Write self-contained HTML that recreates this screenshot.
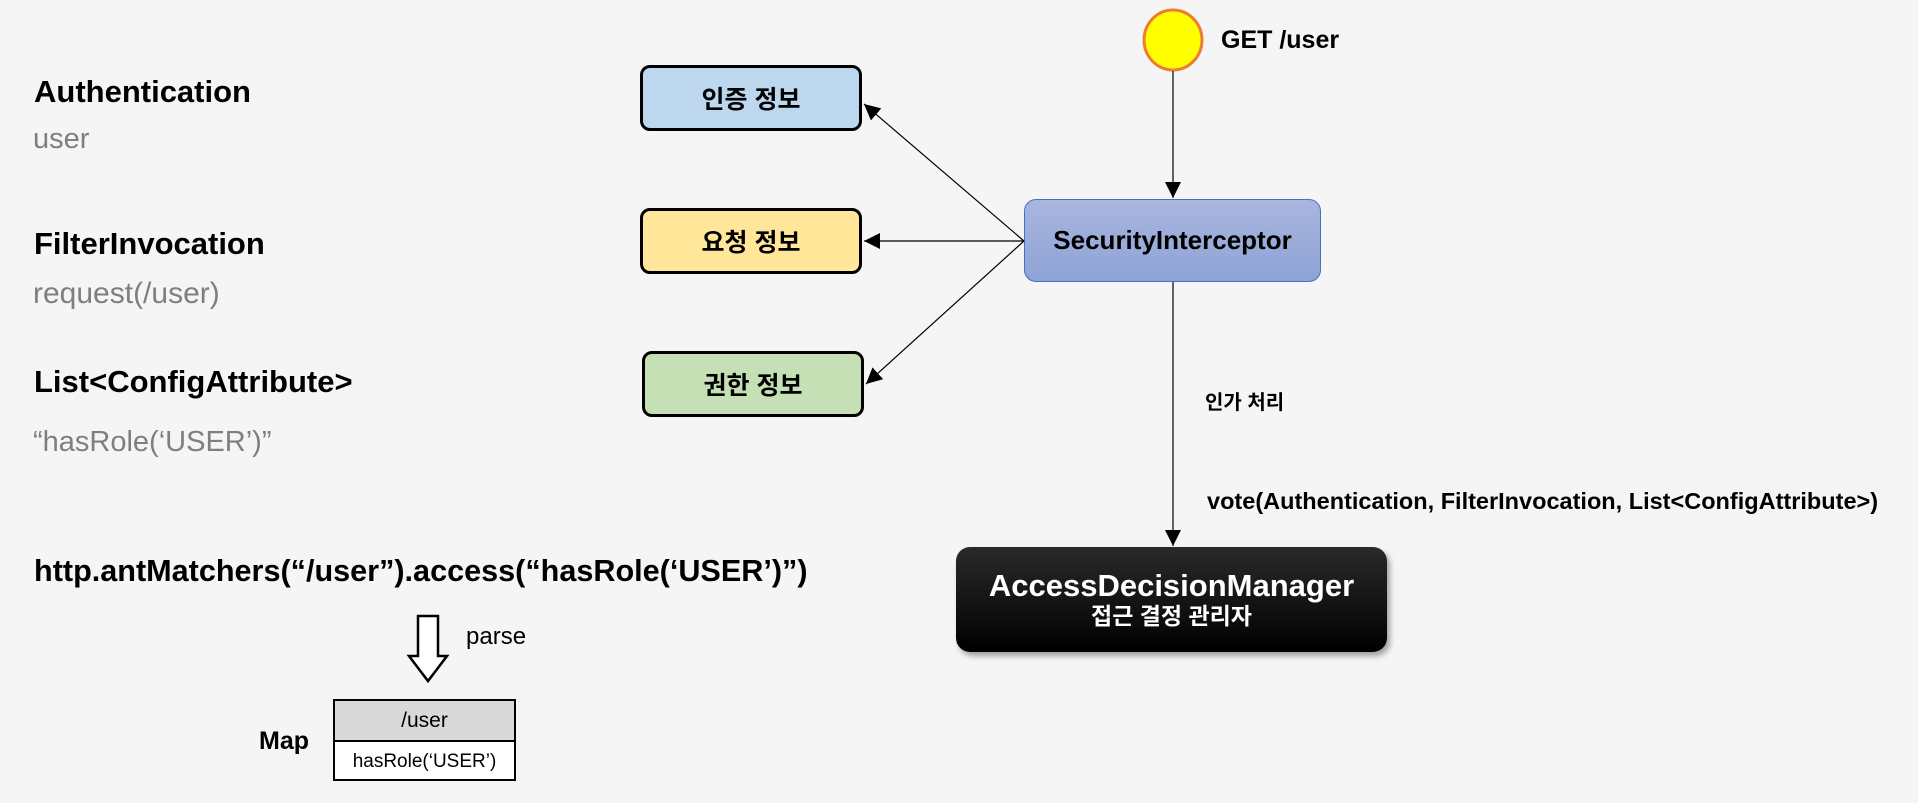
<!DOCTYPE html>
<html><head><meta charset="utf-8"><style>
body{margin:0;background:#f5f5f5;width:1918px;height:803px;overflow:hidden;position:relative;font-family:"Liberation Sans","Noto Sans CJK KR",sans-serif}
.t{position:absolute;white-space:nowrap;line-height:1}
.b{font-weight:bold;color:#000}
.g{color:#7f7f7f}
.box{position:absolute;border:3px solid #000;border-radius:10px;box-sizing:border-box;display:flex;align-items:center;justify-content:center;font-weight:bold;font-size:25px}
</style></head><body>
<div class="t b" style="left:34px;top:76px;font-size:31px">Authentication</div>
<div class="t g" style="left:33px;top:125px;font-size:29px">user</div>
<div class="t b" style="left:34px;top:228px;font-size:31px">FilterInvocation</div>
<div class="t g" style="left:33px;top:279px;font-size:30px">request(/user)</div>
<div class="t b" style="left:34px;top:366px;font-size:31px">List&lt;ConfigAttribute&gt;</div>
<div class="t g" style="left:33px;top:428px;font-size:29px">“hasRole(‘USER’)”</div>
<div class="t b" style="left:34px;top:556px;font-size:30.6px">http.antMatchers(“/user”).access(“hasRole(‘USER’)”)</div>
<div class="t" style="left:466px;top:625px;font-size:24px">parse</div>
<div class="t b" style="left:259px;top:729px;font-size:25px">Map</div>
<div style="position:absolute;left:333px;top:699px;width:183px;height:82px;border:2px solid #000;box-sizing:border-box;background:#fff">
<div style="height:39px;background:#d9d9d9;border-bottom:2px solid #000;display:flex;align-items:center;justify-content:center;font-size:21px">/user</div>
<div style="height:39px;display:flex;align-items:center;justify-content:center;font-size:19px">hasRole(‘USER’)</div></div>
<div class="box" style="left:640px;top:65px;width:222px;height:66px;background:#bdd7ee">인증 정보</div>
<div class="box" style="left:640px;top:208px;width:222px;height:66px;background:#ffe699">요청 정보</div>
<div class="box" style="left:642px;top:351px;width:222px;height:66px;background:#c5e0b4">권한 정보</div>
<div class="box" style="left:1024px;top:199px;width:297px;height:83px;border:1.5px solid #4472c4;border-radius:12px;background:linear-gradient(#a9b6de,#8ea3d6);font-size:26px">SecurityInterceptor</div>
<div class="box" style="left:956px;top:547px;width:431px;height:105px;border:none;border-radius:14px;background:linear-gradient(#2a2a2a,#000);color:#fff;flex-direction:column;box-shadow:3px 4px 6px rgba(0,0,0,.35)">
<div style="font-size:31px;line-height:1.1">AccessDecisionManager</div><div style="font-size:23px;line-height:1.2">접근 결정 관리자</div></div>
<div class="t b" style="left:1221px;top:28px;font-size:25px">GET /user</div>
<div class="t b" style="left:1205px;top:393px;font-size:20px">인가 처리</div>
<div class="t b" style="left:1207px;top:490px;font-size:23.5px">vote(Authentication, FilterInvocation, List&lt;ConfigAttribute&gt;)</div>
<svg width="1918" height="803" style="position:absolute;left:0;top:0">
<defs><marker id="v" markerWidth="16" markerHeight="20" refX="16" refY="8" orient="auto" markerUnits="userSpaceOnUse"><path d="M0,0L16,8L0,16z" fill="#000"/></marker></defs>
<ellipse cx="1173" cy="40" rx="29" ry="30" fill="#ff0" stroke="#ed7d31" stroke-width="3"/>
<line x1="1173" y1="71" x2="1173" y2="198" stroke="#000" stroke-width="1.2" marker-end="url(#v)"/>
<line x1="1173" y1="282" x2="1173" y2="546" stroke="#000" stroke-width="1.2" marker-end="url(#v)"/>
<line x1="1024" y1="241" x2="864" y2="104" stroke="#000" stroke-width="1.2" marker-end="url(#v)"/>
<line x1="1024" y1="241" x2="864" y2="241" stroke="#000" stroke-width="1.2" marker-end="url(#v)"/>
<line x1="1024" y1="241" x2="866" y2="384" stroke="#000" stroke-width="1.2" marker-end="url(#v)"/>
<path d="M418,616H438V656H447L428,681L409,656H418Z" fill="#fff" stroke="#000" stroke-width="2.5"/>
</svg>
</body></html>
